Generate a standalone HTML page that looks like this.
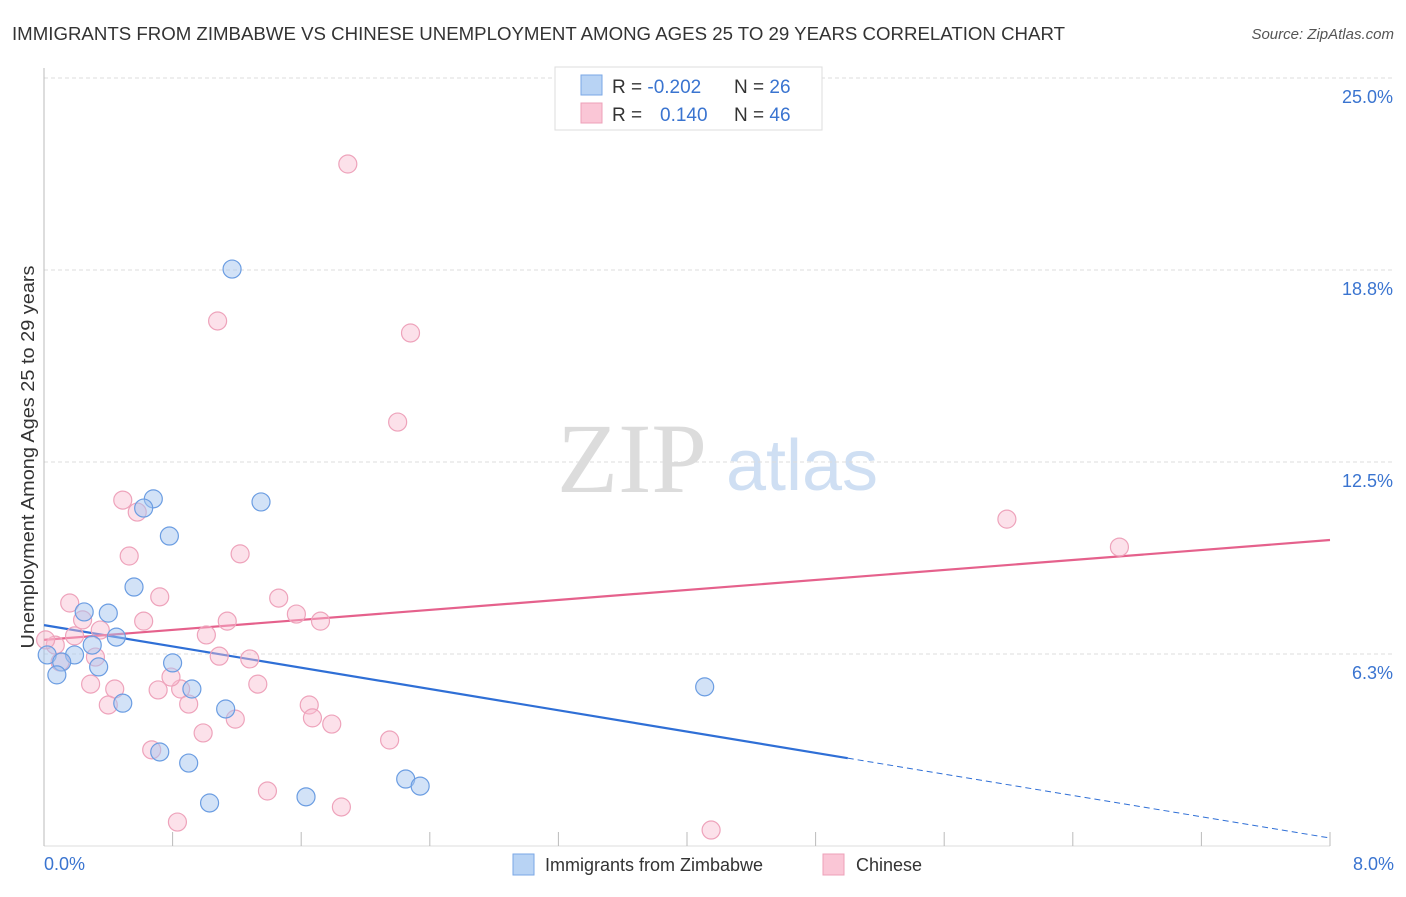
<!DOCTYPE html>
<html><head><meta charset="utf-8"><style>
body{margin:0;background:#fff;font-family:"Liberation Sans",sans-serif;}
</style></head><body>
<svg id="chart" width="1406" height="892" xmlns="http://www.w3.org/2000/svg" font-family="Liberation Sans,sans-serif">
<text x="12" y="40" font-size="18" fill="#333" textLength="1053" lengthAdjust="spacingAndGlyphs">IMMIGRANTS FROM ZIMBABWE VS CHINESE UNEMPLOYMENT AMONG AGES 25 TO 29 YEARS CORRELATION CHART</text>
<text x="1394" y="39" font-size="15" fill="#555" text-anchor="end" font-style="italic">Source: ZipAtlas.com</text>
<g>
<text x="632" y="492" font-size="100" fill="#dcdcdc" text-anchor="middle" style="font-family:'Liberation Serif',serif">ZIP</text>
<text x="802" y="490" font-size="72" fill="#cfdff3" text-anchor="middle">atlas</text>
</g>
<g id="grid"></g>
<g id="axes"></g>
<g id="lines"></g>
<g id="points"></g>
<text transform="translate(34,457) rotate(-90)" font-size="18" fill="#333" text-anchor="middle" textLength="383" lengthAdjust="spacingAndGlyphs">Unemployment Among Ages 25 to 29 years</text>
<g>
<rect x="555" y="67" width="267" height="63" fill="#fff" stroke="#ddd"/>
<rect x="581" y="75" width="21" height="20" fill="#b8d3f4" stroke="#7aa7e6"/>
<text x="612" y="93" font-size="19" fill="#333">R = <tspan fill="#3a74d0">-0.202</tspan></text>
<text x="734" y="93" font-size="19" fill="#333">N = <tspan fill="#3a74d0">26</tspan></text>
<rect x="581" y="103" width="21" height="20" fill="#fac6d6" stroke="#eda0b8"/>
<text x="612" y="121" font-size="19" fill="#333">R = <tspan fill="#3a74d0" x="660">0.140</tspan></text>
<text x="734" y="121" font-size="19" fill="#333">N = <tspan fill="#3a74d0">46</tspan></text>
</g>
<g>
<rect x="513" y="854" width="21" height="21" fill="#b8d3f4" stroke="#7aa7e6"/>
<text x="545" y="871" font-size="18" fill="#333">Immigrants from Zimbabwe</text>
<rect x="823" y="854" width="21" height="21" fill="#fac6d6" stroke="#eda0b8"/>
<text x="856" y="871" font-size="18" fill="#333">Chinese</text>
</g>
</svg>
<script>
const yTicks=[6.25,12.5,18.75,25];
const yTickLabels=["6.3%","12.5%","18.8%","25.0%"];
const xTickLabels=["0.0%","8.0%"];
const blueX=[1.17,0.68,0.62,1.35,0.78,0.56,0.25,0.40,0.45,0.30,0.19,0.02,0.11,0.34,0.08,0.80,0.92,0.49,1.13,4.11,0.72,0.90,1.03,1.63,2.25,2.34];
const blueY=[18.78,11.30,11.00,11.20,10.09,8.43,7.62,7.58,6.80,6.54,6.22,6.22,5.99,5.83,5.57,5.96,5.11,4.65,4.46,5.18,3.06,2.70,1.40,1.60,2.18,1.95];
const pinkX=[1.89,1.08,2.28,2.20,0.49,0.58,5.99,6.69,0.53,1.22,0.16,0.72,1.46,1.57,0.24,0.62,1.72,1.14,0.35,0.19,1.01,0.32,1.09,1.28,0.07,0.10,0.29,0.44,0.71,0.85,0.79,1.33,0.40,0.90,1.65,1.67,1.19,1.79,0.99,2.15,0.67,1.39,1.85,0.83,4.15,0.01];
const pinkY=[22.20,17.09,16.70,13.80,11.26,10.87,10.64,9.73,9.44,9.51,7.91,8.11,8.07,7.55,7.36,7.32,7.32,7.32,7.03,6.84,6.87,6.15,6.18,6.09,6.54,5.99,5.27,5.11,5.08,5.11,5.50,5.27,4.59,4.62,4.59,4.17,4.13,3.97,3.68,3.45,3.13,1.79,1.27,0.78,0.52,6.71];
const blueTrend=[7.19,0.26];
const blueSolidEnd=5.0;
const pinkTrend=[6.71,9.96];
const NS="http://www.w3.org/2000/svg";
const X0=44,X1=1330,Y0=846,PXPER=30.72;
function sx(v){return X0+(X1-X0)*v/8;}
function sy(v){return Y0-v*PXPER;}
function mk(tag,attrs,parent){const e=document.createElementNS(NS,tag);for(const k in attrs)e.setAttribute(k,attrs[k]);parent.appendChild(e);return e;}
const grid=document.getElementById('grid'),axes=document.getElementById('axes'),lines=document.getElementById('lines'),pts=document.getElementById('points');
yTicks.forEach((t,i)=>{
 const l=mk('line',{x1:X0,x2:1394,y1:sy(t),y2:sy(t),stroke:'#ddd','stroke-dasharray':'4,3'},grid);
 
 
 const tx=mk('text',{x:1393,y:sy(t)+25,'font-size':18,fill:'#3a74d0','text-anchor':'end'},axes);
 tx.textContent=yTickLabels[i];
 
 
});
const ya=mk('line',{x1:X0,x2:X0,y1:68,y2:Y0,stroke:'#bbb'},axes);


const xa=mk('line',{x1:X0,x2:X1,y1:Y0,y2:Y0,stroke:'#ddd'},axes);


for(let i=0;i<=10;i++){
 const v=i*0.8;
 const t=mk('line',{x1:sx(v),x2:sx(v),y1:832,y2:Y0,stroke:'#bbb'},axes);
 
 
}
[[0,'start',44],[8,'end',1394]].forEach((a,i)=>{
 const tx=mk('text',{x:a[2],y:870,'font-size':18,fill:'#3a74d0','text-anchor':a[1]},axes);
 tx.textContent=xTickLabels[i];
 
 
});
function dot(x,y,fill,stroke,name){
 const c=mk('circle',{cx:sx(x),cy:sy(y),r:9,fill:fill,stroke:stroke,'stroke-width':1.2},pts);
 
 
}
pinkX.forEach((x,i)=>dot(x,pinkY[i],'rgba(248,188,208,0.45)','#eea3bb','chinese-point'));
blueX.forEach((x,i)=>dot(x,blueY[i],'rgba(165,198,240,0.5)','#6b9de2','zimbabwe-point'));
function ty(tr,x){return tr[0]+(tr[1]-tr[0])*x/8;}
const bl=mk('line',{x1:sx(0),y1:sy(ty(blueTrend,0)),x2:sx(blueSolidEnd),y2:sy(ty(blueTrend,blueSolidEnd)),stroke:'#2f6fd6','stroke-width':2.2},lines);


const bd=mk('line',{x1:sx(blueSolidEnd),y1:sy(ty(blueTrend,blueSolidEnd)),x2:sx(8),y2:sy(ty(blueTrend,8)),stroke:'#2f6fd6','stroke-width':1,'stroke-dasharray':'6,4'},lines);


const pl=mk('line',{x1:sx(0),y1:sy(ty(pinkTrend,0)),x2:sx(8),y2:sy(ty(pinkTrend,8)),stroke:'#e5618c','stroke-width':2.2},lines);


</script>
</body></html>
